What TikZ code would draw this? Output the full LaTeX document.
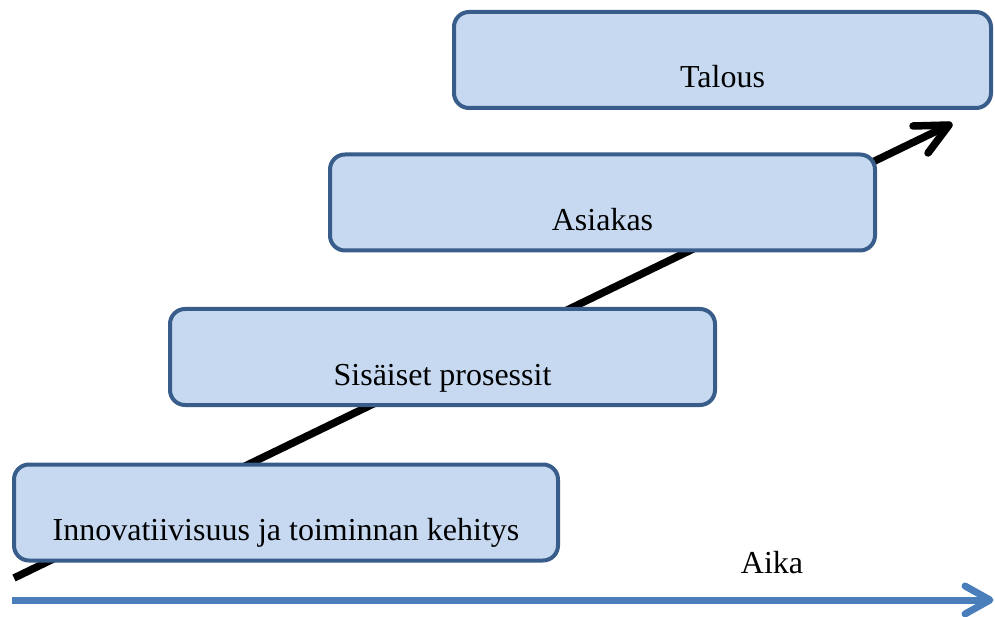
\documentclass[tikz,border=0pt]{standalone}
\usepackage{fontspec}
\setmainfont{Liberation Serif}
\usetikzlibrary{calc}
\definecolor{boxfill}{HTML}{C6D9F1}
\definecolor{boxline}{HTML}{385D8A}
\definecolor{timeblue}{HTML}{4A7EBB}
\tikzset{
  stage/.style={draw=boxline, fill=boxfill, line width=4pt, rounded corners=15pt,
    minimum height=96pt, inner sep=0pt, font=\fontsize{32}{38}\selectfont},
  growth/.style={line width=7.5pt, black},
  timeline/.style={line width=7pt, timeblue},
  barb/.style={line cap=round, line join=round},
  lbl/.style={font=\fontsize{32}{38}\selectfont, inner sep=0pt}
}
\newcommand{\lowtext}[1]{\smash{\raisebox{-28pt}{#1}}}
\begin{document}
\begin{tikzpicture}[x=1pt,y=-1pt]
\useasboundingbox (0,0) rectangle (995,617);
\coordinate (gs) at (14,578);
\coordinate (ge) at (949,125);
\draw[growth] (gs) -- (ge);
\draw[growth, barb] ($(ge)+(-36,1)$) -- (ge) -- ($(ge)+(-21,28)$);
\node[stage, minimum width=537pt] (talous) at (722.5,60) {\lowtext{Talous}};
\node[stage, minimum width=545pt] (asiakas) at (602.5,202.5) {\lowtext{Asiakas}};
\node[stage, minimum width=545pt] (sis) at (442.5,357) {\lowtext{Sisäiset prosessit}};
\node[stage, minimum width=544pt] (inno) at (286,512.5) {\lowtext{Innovatiivisuus ja toiminnan kehitys}};
\node[lbl, anchor=base] (aika) at (772,573) {Aika};
\coordinate (ts) at (12,600);
\coordinate (te) at (990,600);
\draw[timeline] (ts) -- (te);
\draw[timeline, barb] ($(te)+(-25,-14)$) -- (te) -- ($(te)+(-25,14)$);
\end{tikzpicture}
\end{document}
